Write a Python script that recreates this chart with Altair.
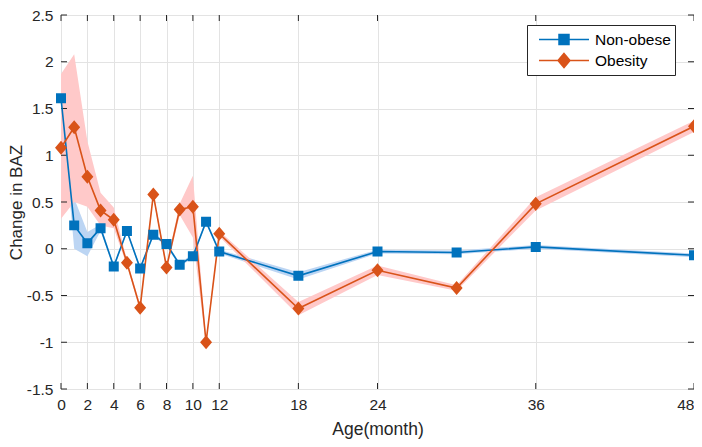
import altair as alt
import pandas as pd

ages = [0, 1, 2, 3, 4, 5, 6, 7, 8, 9, 10, 11, 12, 18, 24, 30, 36, 48]

nonobese = [1.61, 0.25, 0.06, 0.22, -0.19, 0.19, -0.21, 0.15, 0.05, -0.17, -0.08, 0.29, -0.03, -0.29, -0.03, -0.04, 0.02, -0.07]
nonobese_lo = [1.59, 0.00, -0.08, 0.19, -0.21, 0.17, -0.23, 0.13, 0.03, -0.19, -0.10, 0.27, -0.05, -0.33, -0.05, -0.06, 0.00, -0.09]
nonobese_hi = [1.63, 0.54, 0.18, 0.26, -0.17, 0.21, -0.19, 0.17, 0.07, -0.15, -0.06, 0.31, -0.01, -0.25, -0.01, -0.02, 0.04, -0.05]

obesity = [1.08, 1.30, 0.77, 0.41, 0.31, -0.15, -0.63, 0.58, -0.20, 0.42, 0.45, -1.00, 0.16, -0.64, -0.23, -0.42, 0.48, 1.31]
obesity_lo = [0.32, 0.50, 0.45, 0.25, 0.22, -0.18, -0.66, 0.55, -0.23, 0.36, 0.12, -1.03, 0.13, -0.71, -0.28, -0.45, 0.41, 1.25]
obesity_hi = [1.87, 2.08, 1.15, 0.60, 0.44, -0.12, -0.60, 0.61, -0.17, 0.48, 0.78, -0.97, 0.19, -0.57, -0.18, -0.39, 0.55, 1.37]

series = ["Non-obese", "Obesity"]
line_colors = ["#0072BD", "#D95319"]
band_colors = ["#BCD5F3", "#FFC9C9"]
# filled marker outline plus a horizontal stroke that only shows in the legend
marker_paths = ["M-2.63,0H2.63M-0.526,-0.526H0.526V0.526H-0.526Z",
                "M-2.63,0H2.63M0,-0.74L0.63,0L0,0.74L-0.63,0Z"]

x_ticks = [0, 2, 4, 6, 8, 10, 12, 18, 24, 36, 48]
y_ticks = [-1.5, -1, -0.5, 0, 0.5, 1, 1.5, 2, 2.5]

rows = []
for s, v, lo, hi in [(series[0], nonobese, nonobese_lo, nonobese_hi),
                     (series[1], obesity, obesity_lo, obesity_hi)]:
    for a, val, l, h in zip(ages, v, lo, hi):
        rows.append({"age": a, "value": val, "lo": l, "hi": h, "group": s})
df = pd.DataFrame(rows)

W, H = 633, 374
FONT = "Liberation Sans"
AX = "#262626"

xs = alt.Scale(domain=[0, 48], nice=False, zero=False)
ys = alt.Scale(domain=[-1.5, 2.5], nice=False, zero=False)

xaxis = alt.Axis(values=x_ticks, title="Age(month)", ticks=False, domain=False,
                 labelFontSize=15.5, titleFontSize=17.5, labelPadding=8, titlePadding=8,
                 labelColor=AX, titleColor=AX, titleFontWeight="normal",
                 labelExpr="datum.value + ''", labelFlush=False,
                 labelAlign={"condition": {"test": "datum.value == 48", "value": "right"}, "value": "center"},
                 gridColor="#E3E3E3", labelFont=FONT, titleFont=FONT)
yaxis = alt.Axis(values=y_ticks, title="Change in BAZ", ticks=False, domain=False,
                 labelFontSize=15.5, titleFontSize=17, labelPadding=8, titlePadding=1,
                 labelColor=AX, titleColor=AX, titleFontWeight="normal",
                 labelExpr="datum.value + ''", labelFlush=False,
                 gridColor="#E3E3E3", labelFont=FONT, titleFont=FONT)

base = alt.Chart(df)

band_blue = base.transform_filter(alt.datum.group == series[0]).mark_area(opacity=1).encode(
    x=alt.X("age:Q", scale=xs, axis=xaxis),
    y=alt.Y("lo:Q", scale=ys, axis=yaxis),
    y2="hi:Q",
    fill=alt.value(band_colors[0]),
)
band_red = base.transform_filter(alt.datum.group == series[1]).mark_area(opacity=1).encode(
    x=alt.X("age:Q", scale=xs),
    y=alt.Y("lo:Q", scale=ys),
    y2="hi:Q",
    fill=alt.value(band_colors[1]),
)

legend = alt.Legend(
    title=None, orient="none", legendX=466, legendY=10,
    labelFontSize=15.5, labelFont=FONT, labelColor="#000000",
    symbolSize=361, symbolStrokeWidth=1.5, rowPadding=2,
    symbolOffset=22.5, padding=4, labelOffset=20.5,
    fillColor="#FFFFFF", strokeColor=AX,
)
cscale = alt.Scale(domain=series, range=line_colors)

lines = base.mark_line(strokeWidth=1.6).encode(
    x=alt.X("age:Q", scale=xs),
    y=alt.Y("value:Q", scale=ys),
    color=alt.Color("group:N", scale=cscale, legend=legend),
    order="age:Q",
)

pts = base.mark_point(filled=True, size=361, opacity=1, strokeWidth=0).encode(
    x=alt.X("age:Q", scale=xs),
    y=alt.Y("value:Q", scale=ys),
    color=alt.Color("group:N", scale=cscale, legend=legend),
    stroke=alt.Stroke("group:N", scale=cscale, legend=legend),
    shape=alt.Shape("group:N", scale=alt.Scale(domain=series, range=marker_paths), legend=legend),
)

xt = alt.Chart(pd.DataFrame({"t": x_ticks}))
yt = alt.Chart(pd.DataFrame({"t": y_ticks}))
tick_b = xt.mark_rule(color=AX, strokeWidth=1).encode(x=alt.X("t:Q", scale=xs), y=alt.value(H), y2=alt.value(H - 6))
tick_t = xt.mark_rule(color=AX, strokeWidth=1).encode(x=alt.X("t:Q", scale=xs), y=alt.value(0), y2=alt.value(6))
tick_l = yt.mark_rule(color=AX, strokeWidth=1).encode(y=alt.Y("t:Q", scale=ys), x=alt.value(0), x2=alt.value(6))
tick_r = yt.mark_rule(color=AX, strokeWidth=1).encode(y=alt.Y("t:Q", scale=ys), x=alt.value(W - 6), x2=alt.value(W))

chart = alt.layer(
    band_blue, band_red, tick_b, tick_t, tick_l, tick_r, lines, pts
).properties(
    width=W, height=H,
    autosize=alt.AutoSizeParams(type="none"),
    padding={"left": 53, "top": 7, "right": 0, "bottom": 58},
).configure_view(
    stroke=AX, strokeWidth=1.2
).configure(background="#FFFFFF")

chart.save("out.html", embed_options={"renderer": "svg", "actions": False})
